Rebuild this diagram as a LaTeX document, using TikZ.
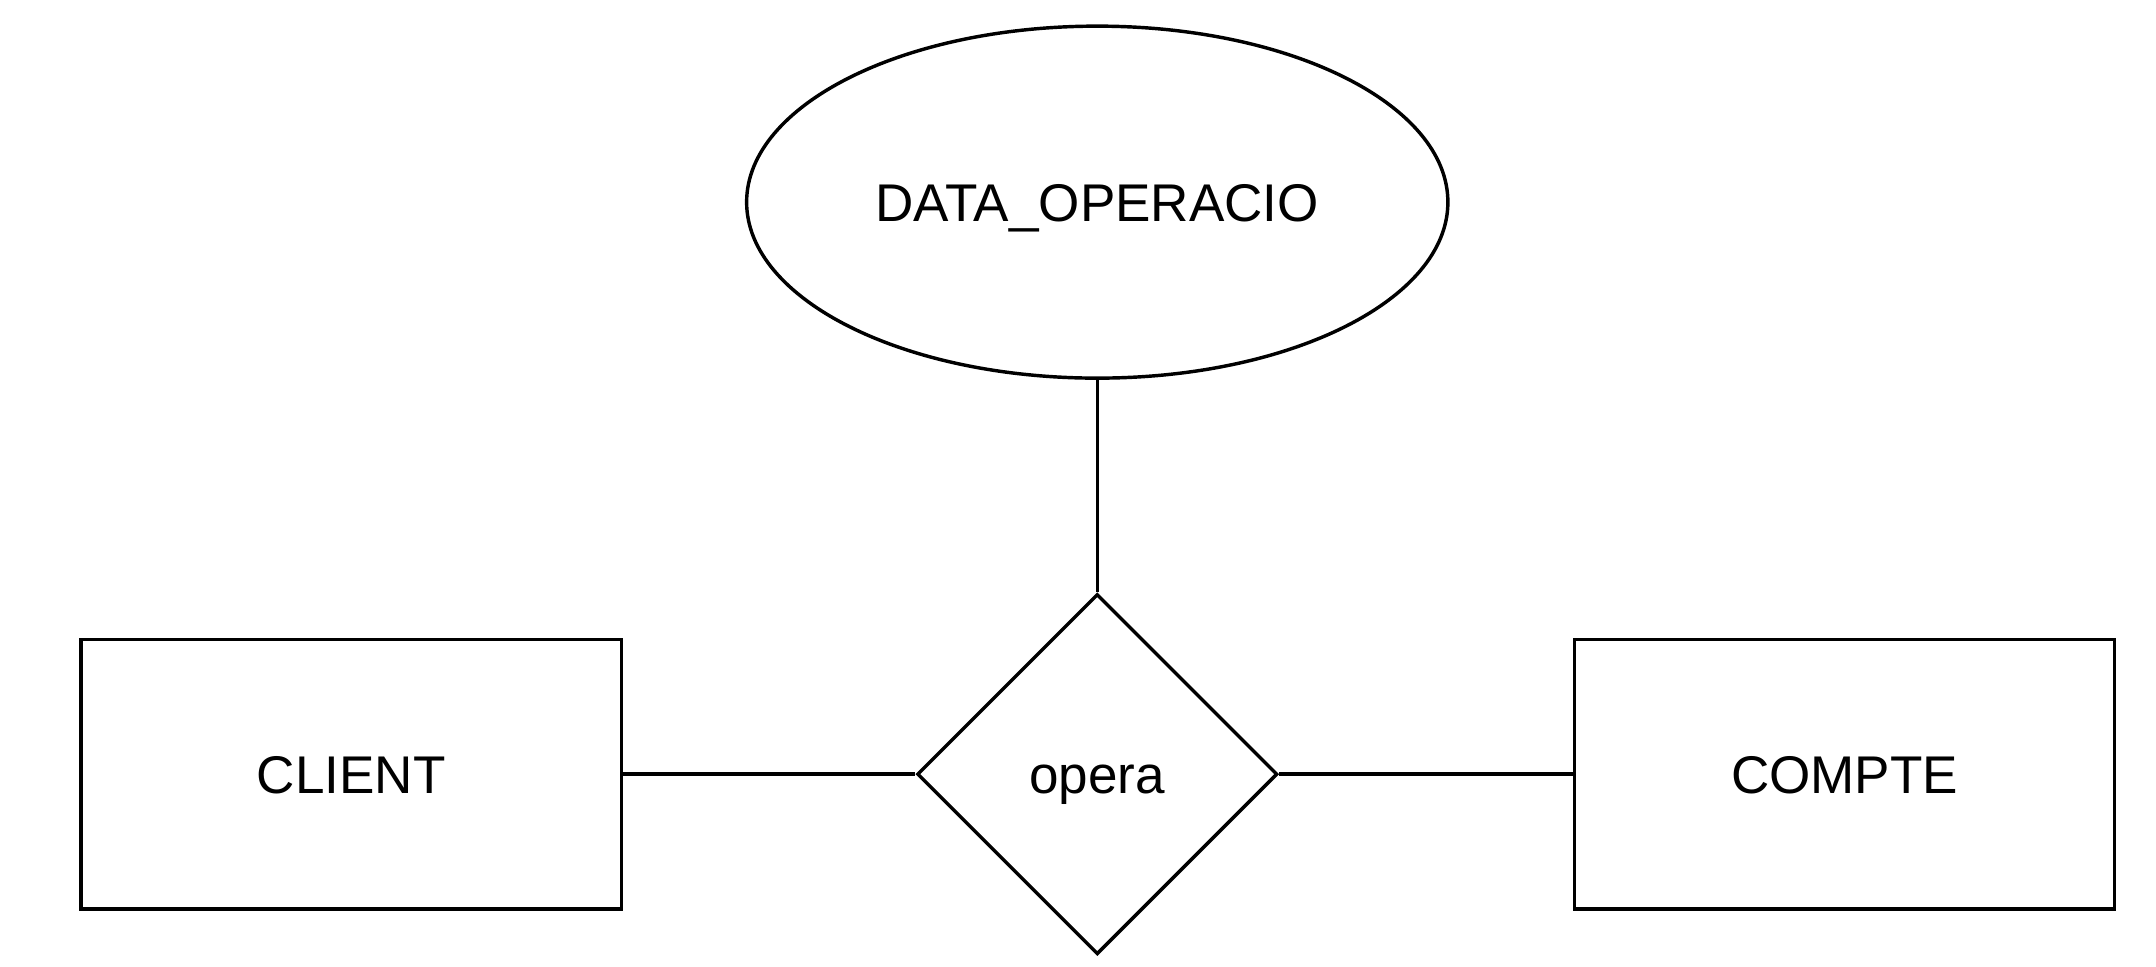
\documentclass[tikz,border=0pt]{standalone}
\usepackage{fontspec}
\setmainfont{Liberation Sans}
\usetikzlibrary{shapes.geometric}
\begin{document}
\begin{tikzpicture}[x=0.5pt,y=-0.5pt,
  every node/.style={font=\fontsize{19.3}{23}\selectfont, line width=1.25pt, draw=black, inner sep=0pt, text height=13.8pt, text depth=0pt},
  entity/.style={rectangle, minimum width=196.5pt, minimum height=98pt},
  attr/.style={ellipse, minimum width=255pt, minimum height=128pt},
  rel/.style={diamond, minimum width=131pt, minimum height=131pt, aspect=1},
  conn/.style={line width=1.25pt}]
\useasboundingbox (0,0) rectangle (1568,703);
\node[attr] (data) at (798,147) {DATA\_OPERACIO};
\node[rel] (opera) at (798,563) {opera};
\node[entity] (client) at (255.5,563) {CLIENT};
\node[entity] (compte) at (1341.5,563) {COMPTE};
\draw[conn] (data.south) -- (opera.north);
\draw[conn] (client.east) -- (opera.west);
\draw[conn] (opera.east) -- (compte.west);
\end{tikzpicture}
\end{document}
